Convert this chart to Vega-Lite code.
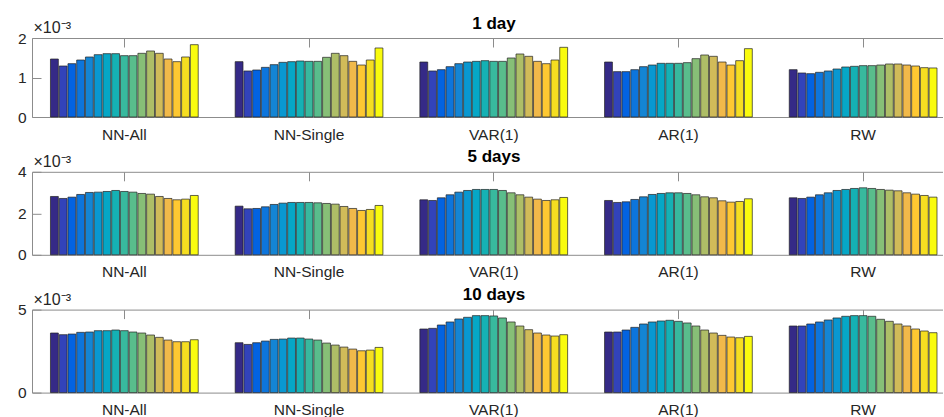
{
"$schema": "https://vega.github.io/schema/vega-lite/v6.json",
"padding": {"left": 17, "top": 14, "right": 0, "bottom": 0},
"config": {
  "font": "Liberation Sans",
  "view": {"stroke": null},
  "axis": {"domainColor": "#8c8c8c", "tickColor": "#8c8c8c", "labelColor": "#262626", "labelFontSize": 15.5, "grid": false, "domainWidth": 1, "tickWidth": 1},
  "title": {"fontSize": 17, "fontWeight": "bold", "color": "#000000"}
},
"data": {"values": [
{"h":"1 day","m":"NN-All","s":1,"v":0.001468},{"h":"1 day","m":"NN-All","s":2,"v":0.001291},{"h":"1 day","m":"NN-All","s":3,"v":0.00135},{"h":"1 day","m":"NN-All","s":4,"v":0.001443},{"h":"1 day","m":"NN-All","s":5,"v":0.001519},{"h":"1 day","m":"NN-All","s":6,"v":0.001578},{"h":"1 day","m":"NN-All","s":7,"v":0.001603},{"h":"1 day","m":"NN-All","s":8,"v":0.001603},{"h":"1 day","m":"NN-All","s":9,"v":0.001553},{"h":"1 day","m":"NN-All","s":10,"v":0.001553},{"h":"1 day","m":"NN-All","s":11,"v":0.001612},{"h":"1 day","m":"NN-All","s":12,"v":0.001671},{"h":"1 day","m":"NN-All","s":13,"v":0.001612},{"h":"1 day","m":"NN-All","s":14,"v":0.001468},{"h":"1 day","m":"NN-All","s":15,"v":0.001401},{"h":"1 day","m":"NN-All","s":16,"v":0.001519},{"h":"1 day","m":"NN-All","s":17,"v":0.001831},
{"h":"1 day","m":"NN-Single","s":1,"v":0.001401},{"h":"1 day","m":"NN-Single","s":2,"v":0.001165},{"h":"1 day","m":"NN-Single","s":3,"v":0.00119},{"h":"1 day","m":"NN-Single","s":4,"v":0.001257},{"h":"1 day","m":"NN-Single","s":5,"v":0.001325},{"h":"1 day","m":"NN-Single","s":6,"v":0.001384},{"h":"1 day","m":"NN-Single","s":7,"v":0.001401},{"h":"1 day","m":"NN-Single","s":8,"v":0.001418},{"h":"1 day","m":"NN-Single","s":9,"v":0.001409},{"h":"1 day","m":"NN-Single","s":10,"v":0.001409},{"h":"1 day","m":"NN-Single","s":11,"v":0.001511},{"h":"1 day","m":"NN-Single","s":12,"v":0.001612},{"h":"1 day","m":"NN-Single","s":13,"v":0.001553},{"h":"1 day","m":"NN-Single","s":14,"v":0.001409},{"h":"1 day","m":"NN-Single","s":15,"v":0.001316},{"h":"1 day","m":"NN-Single","s":16,"v":0.001443},{"h":"1 day","m":"NN-Single","s":17,"v":0.001747},
{"h":"1 day","m":"VAR(1)","s":1,"v":0.001392},{"h":"1 day","m":"VAR(1)","s":2,"v":0.001165},{"h":"1 day","m":"VAR(1)","s":3,"v":0.001198},{"h":"1 day","m":"VAR(1)","s":4,"v":0.001274},{"h":"1 day","m":"VAR(1)","s":5,"v":0.00135},{"h":"1 day","m":"VAR(1)","s":6,"v":0.001392},{"h":"1 day","m":"VAR(1)","s":7,"v":0.001409},{"h":"1 day","m":"VAR(1)","s":8,"v":0.001426},{"h":"1 day","m":"VAR(1)","s":9,"v":0.001409},{"h":"1 day","m":"VAR(1)","s":10,"v":0.001409},{"h":"1 day","m":"VAR(1)","s":11,"v":0.001494},{"h":"1 day","m":"VAR(1)","s":12,"v":0.001595},{"h":"1 day","m":"VAR(1)","s":13,"v":0.001536},{"h":"1 day","m":"VAR(1)","s":14,"v":0.001409},{"h":"1 day","m":"VAR(1)","s":15,"v":0.00135},{"h":"1 day","m":"VAR(1)","s":16,"v":0.001443},{"h":"1 day","m":"VAR(1)","s":17,"v":0.001764},
{"h":"1 day","m":"AR(1)","s":1,"v":0.001392},{"h":"1 day","m":"AR(1)","s":2,"v":0.001148},{"h":"1 day","m":"AR(1)","s":3,"v":0.001148},{"h":"1 day","m":"AR(1)","s":4,"v":0.001198},{"h":"1 day","m":"AR(1)","s":5,"v":0.001274},{"h":"1 day","m":"AR(1)","s":6,"v":0.001316},{"h":"1 day","m":"AR(1)","s":7,"v":0.001359},{"h":"1 day","m":"AR(1)","s":8,"v":0.001359},{"h":"1 day","m":"AR(1)","s":9,"v":0.001359},{"h":"1 day","m":"AR(1)","s":10,"v":0.001376},{"h":"1 day","m":"AR(1)","s":11,"v":0.001477},{"h":"1 day","m":"AR(1)","s":12,"v":0.00157},{"h":"1 day","m":"AR(1)","s":13,"v":0.001536},{"h":"1 day","m":"AR(1)","s":14,"v":0.001392},{"h":"1 day","m":"AR(1)","s":15,"v":0.001316},{"h":"1 day","m":"AR(1)","s":16,"v":0.001426},{"h":"1 day","m":"AR(1)","s":17,"v":0.00173},
{"h":"1 day","m":"RW","s":1,"v":0.001198},{"h":"1 day","m":"RW","s":2,"v":0.001114},{"h":"1 day","m":"RW","s":3,"v":0.001097},{"h":"1 day","m":"RW","s":4,"v":0.001131},{"h":"1 day","m":"RW","s":5,"v":0.001165},{"h":"1 day","m":"RW","s":6,"v":0.001215},{"h":"1 day","m":"RW","s":7,"v":0.001266},{"h":"1 day","m":"RW","s":8,"v":0.001283},{"h":"1 day","m":"RW","s":9,"v":0.0013},{"h":"1 day","m":"RW","s":10,"v":0.0013},{"h":"1 day","m":"RW","s":11,"v":0.001316},{"h":"1 day","m":"RW","s":12,"v":0.001342},{"h":"1 day","m":"RW","s":13,"v":0.001342},{"h":"1 day","m":"RW","s":14,"v":0.001316},{"h":"1 day","m":"RW","s":15,"v":0.001291},{"h":"1 day","m":"RW","s":16,"v":0.001249},{"h":"1 day","m":"RW","s":17,"v":0.001241},
{"h":"5 days","m":"NN-All","s":1,"v":0.002811},{"h":"5 days","m":"NN-All","s":2,"v":0.002715},{"h":"5 days","m":"NN-All","s":3,"v":0.002779},{"h":"5 days","m":"NN-All","s":4,"v":0.002908},{"h":"5 days","m":"NN-All","s":5,"v":0.003004},{"h":"5 days","m":"NN-All","s":6,"v":0.00302},{"h":"5 days","m":"NN-All","s":7,"v":0.003052},{"h":"5 days","m":"NN-All","s":8,"v":0.0031},{"h":"5 days","m":"NN-All","s":9,"v":0.003052},{"h":"5 days","m":"NN-All","s":10,"v":0.00302},{"h":"5 days","m":"NN-All","s":11,"v":0.002956},{"h":"5 days","m":"NN-All","s":12,"v":0.002924},{"h":"5 days","m":"NN-All","s":13,"v":0.002811},{"h":"5 days","m":"NN-All","s":14,"v":0.002715},{"h":"5 days","m":"NN-All","s":15,"v":0.002651},{"h":"5 days","m":"NN-All","s":16,"v":0.002683},{"h":"5 days","m":"NN-All","s":17,"v":0.002859},
{"h":"5 days","m":"NN-Single","s":1,"v":0.002345},{"h":"5 days","m":"NN-Single","s":2,"v":0.002217},{"h":"5 days","m":"NN-Single","s":3,"v":0.002233},{"h":"5 days","m":"NN-Single","s":4,"v":0.002313},{"h":"5 days","m":"NN-Single","s":5,"v":0.002426},{"h":"5 days","m":"NN-Single","s":6,"v":0.00249},{"h":"5 days","m":"NN-Single","s":7,"v":0.002522},{"h":"5 days","m":"NN-Single","s":8,"v":0.002522},{"h":"5 days","m":"NN-Single","s":9,"v":0.002522},{"h":"5 days","m":"NN-Single","s":10,"v":0.002506},{"h":"5 days","m":"NN-Single","s":11,"v":0.002474},{"h":"5 days","m":"NN-Single","s":12,"v":0.002442},{"h":"5 days","m":"NN-Single","s":13,"v":0.002329},{"h":"5 days","m":"NN-Single","s":14,"v":0.002233},{"h":"5 days","m":"NN-Single","s":15,"v":0.002137},{"h":"5 days","m":"NN-Single","s":16,"v":0.002185},{"h":"5 days","m":"NN-Single","s":17,"v":0.002378},
{"h":"5 days","m":"VAR(1)","s":1,"v":0.002651},{"h":"5 days","m":"VAR(1)","s":2,"v":0.002618},{"h":"5 days","m":"VAR(1)","s":3,"v":0.002747},{"h":"5 days","m":"VAR(1)","s":4,"v":0.002892},{"h":"5 days","m":"VAR(1)","s":5,"v":0.00302},{"h":"5 days","m":"VAR(1)","s":6,"v":0.0031},{"h":"5 days","m":"VAR(1)","s":7,"v":0.003149},{"h":"5 days","m":"VAR(1)","s":8,"v":0.003149},{"h":"5 days","m":"VAR(1)","s":9,"v":0.003149},{"h":"5 days","m":"VAR(1)","s":10,"v":0.0031},{"h":"5 days","m":"VAR(1)","s":11,"v":0.002988},{"h":"5 days","m":"VAR(1)","s":12,"v":0.002892},{"h":"5 days","m":"VAR(1)","s":13,"v":0.002779},{"h":"5 days","m":"VAR(1)","s":14,"v":0.002683},{"h":"5 days","m":"VAR(1)","s":15,"v":0.002618},{"h":"5 days","m":"VAR(1)","s":16,"v":0.002651},{"h":"5 days","m":"VAR(1)","s":17,"v":0.002763},
{"h":"5 days","m":"AR(1)","s":1,"v":0.002618},{"h":"5 days","m":"AR(1)","s":2,"v":0.002522},{"h":"5 days","m":"AR(1)","s":3,"v":0.002554},{"h":"5 days","m":"AR(1)","s":4,"v":0.002667},{"h":"5 days","m":"AR(1)","s":5,"v":0.002795},{"h":"5 days","m":"AR(1)","s":6,"v":0.002908},{"h":"5 days","m":"AR(1)","s":7,"v":0.002956},{"h":"5 days","m":"AR(1)","s":8,"v":0.002988},{"h":"5 days","m":"AR(1)","s":9,"v":0.002988},{"h":"5 days","m":"AR(1)","s":10,"v":0.002956},{"h":"5 days","m":"AR(1)","s":11,"v":0.002892},{"h":"5 days","m":"AR(1)","s":12,"v":0.002795},{"h":"5 days","m":"AR(1)","s":13,"v":0.002747},{"h":"5 days","m":"AR(1)","s":14,"v":0.002602},{"h":"5 days","m":"AR(1)","s":15,"v":0.002538},{"h":"5 days","m":"AR(1)","s":16,"v":0.00257},{"h":"5 days","m":"AR(1)","s":17,"v":0.002699},
{"h":"5 days","m":"RW","s":1,"v":0.002747},{"h":"5 days","m":"RW","s":2,"v":0.002715},{"h":"5 days","m":"RW","s":3,"v":0.002779},{"h":"5 days","m":"RW","s":4,"v":0.002892},{"h":"5 days","m":"RW","s":5,"v":0.002988},{"h":"5 days","m":"RW","s":6,"v":0.0031},{"h":"5 days","m":"RW","s":7,"v":0.003149},{"h":"5 days","m":"RW","s":8,"v":0.003197},{"h":"5 days","m":"RW","s":9,"v":0.003229},{"h":"5 days","m":"RW","s":10,"v":0.003197},{"h":"5 days","m":"RW","s":11,"v":0.003149},{"h":"5 days","m":"RW","s":12,"v":0.003116},{"h":"5 days","m":"RW","s":13,"v":0.003084},{"h":"5 days","m":"RW","s":14,"v":0.002988},{"h":"5 days","m":"RW","s":15,"v":0.002924},{"h":"5 days","m":"RW","s":16,"v":0.002859},{"h":"5 days","m":"RW","s":17,"v":0.002779},
{"h":"10 days","m":"NN-All","s":1,"v":0.003589},{"h":"10 days","m":"NN-All","s":2,"v":0.003488},{"h":"10 days","m":"NN-All","s":3,"v":0.003528},{"h":"10 days","m":"NN-All","s":4,"v":0.003629},{"h":"10 days","m":"NN-All","s":5,"v":0.003649},{"h":"10 days","m":"NN-All","s":6,"v":0.00373},{"h":"10 days","m":"NN-All","s":7,"v":0.00373},{"h":"10 days","m":"NN-All","s":8,"v":0.00377},{"h":"10 days","m":"NN-All","s":9,"v":0.00373},{"h":"10 days","m":"NN-All","s":10,"v":0.003649},{"h":"10 days","m":"NN-All","s":11,"v":0.003589},{"h":"10 days","m":"NN-All","s":12,"v":0.003468},{"h":"10 days","m":"NN-All","s":13,"v":0.003327},{"h":"10 days","m":"NN-All","s":14,"v":0.003165},{"h":"10 days","m":"NN-All","s":15,"v":0.003065},{"h":"10 days","m":"NN-All","s":16,"v":0.003065},{"h":"10 days","m":"NN-All","s":17,"v":0.003185},
{"h":"10 days","m":"NN-Single","s":1,"v":0.003004},{"h":"10 days","m":"NN-Single","s":2,"v":0.002903},{"h":"10 days","m":"NN-Single","s":3,"v":0.003004},{"h":"10 days","m":"NN-Single","s":4,"v":0.003105},{"h":"10 days","m":"NN-Single","s":5,"v":0.003206},{"h":"10 days","m":"NN-Single","s":6,"v":0.003226},{"h":"10 days","m":"NN-Single","s":7,"v":0.003286},{"h":"10 days","m":"NN-Single","s":8,"v":0.003286},{"h":"10 days","m":"NN-Single","s":9,"v":0.003226},{"h":"10 days","m":"NN-Single","s":10,"v":0.003165},{"h":"10 days","m":"NN-Single","s":11,"v":0.002984},{"h":"10 days","m":"NN-Single","s":12,"v":0.002863},{"h":"10 days","m":"NN-Single","s":13,"v":0.002742},{"h":"10 days","m":"NN-Single","s":14,"v":0.002621},{"h":"10 days","m":"NN-Single","s":15,"v":0.00252},{"h":"10 days","m":"NN-Single","s":16,"v":0.00256},{"h":"10 days","m":"NN-Single","s":17,"v":0.002722},
{"h":"10 days","m":"VAR(1)","s":1,"v":0.003831},{"h":"10 days","m":"VAR(1)","s":2,"v":0.003871},{"h":"10 days","m":"VAR(1)","s":3,"v":0.004073},{"h":"10 days","m":"VAR(1)","s":4,"v":0.004254},{"h":"10 days","m":"VAR(1)","s":5,"v":0.004435},{"h":"10 days","m":"VAR(1)","s":6,"v":0.004536},{"h":"10 days","m":"VAR(1)","s":7,"v":0.004637},{"h":"10 days","m":"VAR(1)","s":8,"v":0.004637},{"h":"10 days","m":"VAR(1)","s":9,"v":0.004617},{"h":"10 days","m":"VAR(1)","s":10,"v":0.004496},{"h":"10 days","m":"VAR(1)","s":11,"v":0.004254},{"h":"10 days","m":"VAR(1)","s":12,"v":0.004012},{"h":"10 days","m":"VAR(1)","s":13,"v":0.00379},{"h":"10 days","m":"VAR(1)","s":14,"v":0.003589},{"h":"10 days","m":"VAR(1)","s":15,"v":0.003468},{"h":"10 days","m":"VAR(1)","s":16,"v":0.003407},{"h":"10 days","m":"VAR(1)","s":17,"v":0.003488},
{"h":"10 days","m":"AR(1)","s":1,"v":0.003649},{"h":"10 days","m":"AR(1)","s":2,"v":0.003649},{"h":"10 days","m":"AR(1)","s":3,"v":0.00377},{"h":"10 days","m":"AR(1)","s":4,"v":0.003931},{"h":"10 days","m":"AR(1)","s":5,"v":0.004133},{"h":"10 days","m":"AR(1)","s":6,"v":0.004254},{"h":"10 days","m":"AR(1)","s":7,"v":0.004315},{"h":"10 days","m":"AR(1)","s":8,"v":0.004355},{"h":"10 days","m":"AR(1)","s":9,"v":0.004294},{"h":"10 days","m":"AR(1)","s":10,"v":0.004194},{"h":"10 days","m":"AR(1)","s":11,"v":0.004012},{"h":"10 days","m":"AR(1)","s":12,"v":0.00377},{"h":"10 days","m":"AR(1)","s":13,"v":0.003589},{"h":"10 days","m":"AR(1)","s":14,"v":0.003448},{"h":"10 days","m":"AR(1)","s":15,"v":0.003347},{"h":"10 days","m":"AR(1)","s":16,"v":0.003306},{"h":"10 days","m":"AR(1)","s":17,"v":0.003387},
{"h":"10 days","m":"RW","s":1,"v":0.004012},{"h":"10 days","m":"RW","s":2,"v":0.004012},{"h":"10 days","m":"RW","s":3,"v":0.004133},{"h":"10 days","m":"RW","s":4,"v":0.004254},{"h":"10 days","m":"RW","s":5,"v":0.004375},{"h":"10 days","m":"RW","s":6,"v":0.004496},{"h":"10 days","m":"RW","s":7,"v":0.004597},{"h":"10 days","m":"RW","s":8,"v":0.004637},{"h":"10 days","m":"RW","s":9,"v":0.004637},{"h":"10 days","m":"RW","s":10,"v":0.004597},{"h":"10 days","m":"RW","s":11,"v":0.004415},{"h":"10 days","m":"RW","s":12,"v":0.004294},{"h":"10 days","m":"RW","s":13,"v":0.004133},{"h":"10 days","m":"RW","s":14,"v":0.004012},{"h":"10 days","m":"RW","s":15,"v":0.003831},{"h":"10 days","m":"RW","s":16,"v":0.00371},{"h":"10 days","m":"RW","s":17,"v":0.003609}
]},
"spacing": 54.8,
"bounds": "flush",
"vconcat": [
{
  "width": 911, "height": 79,
  "transform": [{"filter": "datum.h === '1 day'"}],
  "title": {"text": "1 day", "dx": 6.5, "offset": -13},
  "layer": [
    {"mark": {"type": "bar", "stroke": "#222222", "strokeWidth": 0.7},
     "encoding": {
       "x": {"field": "m", "type": "nominal", "sort": ["NN-All","NN-Single","VAR(1)","AR(1)","RW"], "scale": {"paddingInner": 0.2, "paddingOuter": 0.0662, "align": 0.755}, "axis": {"orient": "bottom", "ticks": false, "title": null, "labelAngle": 0, "labelPadding": 10}},
       "xOffset": {"field": "s", "type": "ordinal", "scale": {"paddingInner": 0.1}},
       "y": {"field": "v", "type": "quantitative", "scale": {"domain": [0, 0.002], "nice": false}, "axis": {"values": [0, 0.001, 0.002], "labelExpr": "format(datum.value*1000, 'd')", "title": "×10⁻³", "titleAngle": 0, "titleAlign": "left", "titleBaseline": "alphabetic", "titleX": 1, "titleY": -5.5, "titleFontSize": 16, "titleFontWeight": "normal", "titleColor": "#262626", "tickSize": -9, "labelPadding": 15}},
       "color": {"field": "s", "type": "ordinal", "scale": {"range": ["#352A87","#3243BA","#0363E1","#0D75DC","#1485D4","#0998D1","#06A7C6","#15B1B4","#38B99E","#59BD8C","#87BF77","#AEBE67","#D1BB59","#F1B94A","#FEC832","#F5DE21","#F9FB0E"]}, "legend": null}
     }},
    {"mark": {"type": "tick", "opacity": 0},
     "encoding": {
       "x": {"field": "m", "type": "nominal", "sort": ["NN-All","NN-Single","VAR(1)","AR(1)","RW"], "axis": {"orient": "top", "labels": false, "title": null, "tickSize": -9}}
     }}
  ],
  "resolve": {"axis": {"x": "independent"}}
},
{
  "width": 911, "height": 83,
  "transform": [{"filter": "datum.h === '5 days'"}],
  "title": {"text": "5 days", "dx": 6.5, "offset": -13},
  "layer": [
    {"mark": {"type": "bar", "stroke": "#222222", "strokeWidth": 0.7},
     "encoding": {
       "x": {"field": "m", "type": "nominal", "sort": ["NN-All","NN-Single","VAR(1)","AR(1)","RW"], "scale": {"paddingInner": 0.2, "paddingOuter": 0.0662, "align": 0.755}, "axis": {"orient": "bottom", "ticks": false, "title": null, "labelAngle": 0, "labelPadding": 10}},
       "xOffset": {"field": "s", "type": "ordinal", "scale": {"paddingInner": 0.1}},
       "y": {"field": "v", "type": "quantitative", "scale": {"domain": [0, 0.004], "nice": false}, "axis": {"values": [0, 0.002, 0.004], "labelExpr": "format(datum.value*1000, 'd')", "title": "×10⁻³", "titleAngle": 0, "titleAlign": "left", "titleBaseline": "alphabetic", "titleX": 1, "titleY": -5.5, "titleFontSize": 16, "titleFontWeight": "normal", "titleColor": "#262626", "tickSize": -9, "labelPadding": 15}},
       "color": {"field": "s", "type": "ordinal", "scale": {"range": ["#352A87","#3243BA","#0363E1","#0D75DC","#1485D4","#0998D1","#06A7C6","#15B1B4","#38B99E","#59BD8C","#87BF77","#AEBE67","#D1BB59","#F1B94A","#FEC832","#F5DE21","#F9FB0E"]}, "legend": null}
     }},
    {"mark": {"type": "tick", "opacity": 0},
     "encoding": {
       "x": {"field": "m", "type": "nominal", "sort": ["NN-All","NN-Single","VAR(1)","AR(1)","RW"], "axis": {"orient": "top", "labels": false, "title": null, "tickSize": -9}}
     }}
  ],
  "resolve": {"axis": {"x": "independent"}}
},
{
  "width": 911, "height": 83,
  "transform": [{"filter": "datum.h === '10 days'"}],
  "title": {"text": "10 days", "dx": 6.5, "offset": -13},
  "layer": [
    {"mark": {"type": "bar", "stroke": "#222222", "strokeWidth": 0.7},
     "encoding": {
       "x": {"field": "m", "type": "nominal", "sort": ["NN-All","NN-Single","VAR(1)","AR(1)","RW"], "scale": {"paddingInner": 0.2, "paddingOuter": 0.0662, "align": 0.755}, "axis": {"orient": "bottom", "ticks": false, "title": null, "labelAngle": 0, "labelPadding": 10}},
       "xOffset": {"field": "s", "type": "ordinal", "scale": {"paddingInner": 0.1}},
       "y": {"field": "v", "type": "quantitative", "scale": {"domain": [0, 0.005], "nice": false}, "axis": {"values": [0, 0.005], "labelExpr": "format(datum.value*1000, 'd')", "title": "×10⁻³", "titleAngle": 0, "titleAlign": "left", "titleBaseline": "alphabetic", "titleX": 1, "titleY": -5.5, "titleFontSize": 16, "titleFontWeight": "normal", "titleColor": "#262626", "tickSize": -9, "labelPadding": 15}},
       "color": {"field": "s", "type": "ordinal", "scale": {"range": ["#352A87","#3243BA","#0363E1","#0D75DC","#1485D4","#0998D1","#06A7C6","#15B1B4","#38B99E","#59BD8C","#87BF77","#AEBE67","#D1BB59","#F1B94A","#FEC832","#F5DE21","#F9FB0E"]}, "legend": null}
     }},
    {"mark": {"type": "tick", "opacity": 0},
     "encoding": {
       "x": {"field": "m", "type": "nominal", "sort": ["NN-All","NN-Single","VAR(1)","AR(1)","RW"], "axis": {"orient": "top", "labels": false, "title": null, "tickSize": -9}}
     }}
  ],
  "resolve": {"axis": {"x": "independent"}}
}
]
}
